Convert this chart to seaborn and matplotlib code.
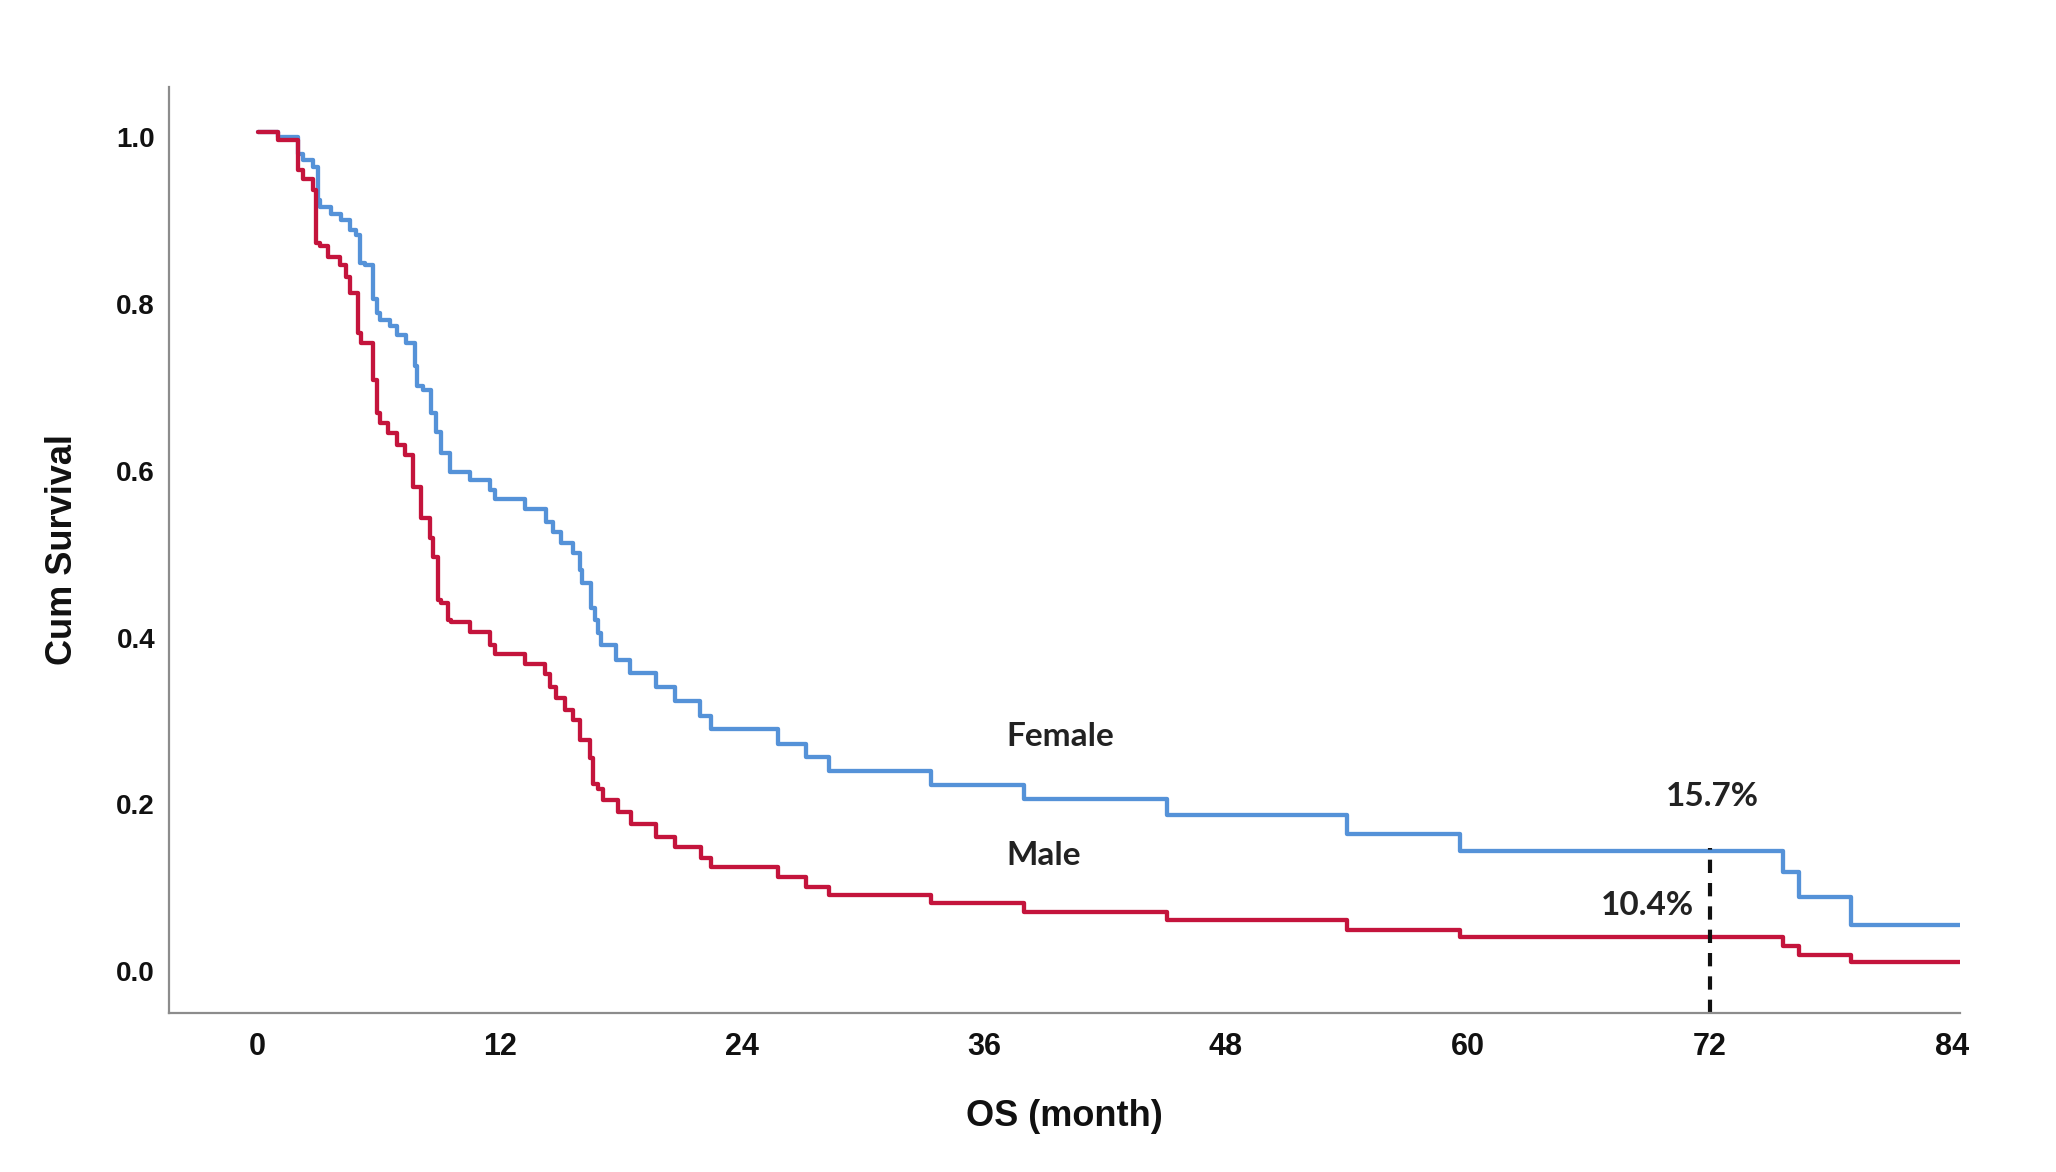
import numpy as np
import pandas as pd
import matplotlib
matplotlib.use("Agg")
import matplotlib.pyplot as plt
import matplotlib.transforms as mtransforms
import seaborn as sns

# Kaplan-Meier steps: (month where the step starts, survival from then on)
female_time = [0, 1.0, 2.0, 2.25, 2.74, 2.99, 3.1, 3.65, 4.15, 4.56, 4.89, 5.06, 5.3,
               5.72, 5.9, 6.05, 6.54, 6.88, 7.37, 7.78, 7.9, 8.2, 8.6, 8.86, 9.1, 9.52,
               10.51, 11.5, 11.75, 13.24, 14.31, 14.64, 15.06, 15.63, 15.96, 16.1, 16.54,
               16.7, 16.87, 17.04, 17.78, 18.44, 19.77, 20.67, 21.95, 22.45, 25.8, 27.2,
               28.3, 33.4, 38.0, 45.1, 54.0, 59.6, 75.6, 76.4, 79.0, 84.4]
female_surv = [1.0, 0.994, 0.974, 0.966, 0.958, 0.918, 0.910, 0.902, 0.894, 0.882, 0.876,
               0.843, 0.841, 0.800, 0.783, 0.775, 0.767, 0.757, 0.747, 0.720, 0.695, 0.691,
               0.663, 0.640, 0.615, 0.593, 0.583, 0.571, 0.560, 0.548, 0.533, 0.521, 0.507,
               0.495, 0.475, 0.459, 0.430, 0.415, 0.399, 0.385, 0.367, 0.351, 0.335, 0.318,
               0.300, 0.284, 0.267, 0.251, 0.234, 0.217, 0.200, 0.181, 0.159, 0.138, 0.113,
               0.083, 0.049, 0.049]

male_time = [0, 1.0, 2.0, 2.25, 2.74, 2.9, 3.07, 3.49, 4.07, 4.4, 4.56, 4.97, 5.14, 5.72,
             5.9, 6.05, 6.46, 6.88, 7.29, 7.7, 8.1, 8.53, 8.69, 8.94, 9.11, 9.44, 9.6,
             10.51, 11.5, 11.75, 13.24, 14.23, 14.48, 14.81, 15.22, 15.63, 15.96, 16.46,
             16.62, 16.87, 17.12, 17.86, 18.53, 19.77, 20.67, 21.99, 22.48, 25.8, 27.2,
             28.3, 33.4, 38.0, 45.1, 54.0, 59.6, 75.6, 76.4, 79.0, 84.4]
male_surv = [1.0, 0.990, 0.954, 0.944, 0.930, 0.867, 0.863, 0.850, 0.841, 0.826, 0.807,
             0.759, 0.747, 0.703, 0.663, 0.651, 0.639, 0.625, 0.613, 0.575, 0.537, 0.513,
             0.491, 0.439, 0.435, 0.415, 0.413, 0.401, 0.385, 0.374, 0.362, 0.350, 0.335,
             0.321, 0.307, 0.295, 0.271, 0.250, 0.219, 0.213, 0.199, 0.185, 0.171, 0.155,
             0.143, 0.130, 0.119, 0.107, 0.095, 0.085, 0.076, 0.065, 0.055, 0.044, 0.035,
             0.024, 0.013, 0.005, 0.005]

groups = ["Female", "Male"]
colors = ["#5592d8", "#c4143c"]
x_ticks = [0, 12, 24, 36, 48, 60, 72, 84]
y_ticks = [0.0, 0.2, 0.4, 0.6, 0.8, 1.0]
mark_month = 72
rate_labels = ["15.7%", "10.4%"]

df = pd.concat([
    pd.DataFrame({"month": female_time, "surv": female_surv, "sex": "Female"}),
    pd.DataFrame({"month": male_time, "surv": male_surv, "sex": "Male"}),
], ignore_index=True)

sns.set_theme(style="white")
plt.rcParams["font.family"] = ["Liberation Sans", "DejaVu Sans"]

W, H = 2056, 1172
fig = plt.figure(figsize=(W / 100, H / 100), dpi=100)
ax = fig.add_axes([169 / W, 1 - 1013 / H, (1960 - 169) / W, (1013 - 87) / H])

sns.lineplot(data=df, x="month", y="surv", hue="sex", hue_order=groups,
             palette=dict(zip(groups, colors)), estimator=None, drawstyle="steps-post",
             linewidth=3.1, legend=False, ax=ax)

ax.set_xlim(-4.4, 84.4)
ax.set_ylim(-0.056, 1.054)

# dashed marker at 72 months, up to the female curve
idx = np.searchsorted(female_time, mark_month, side="right") - 1
ax.plot([mark_month, mark_month], [ax.get_ylim()[0], female_surv[idx] + 0.004],
        color="#111111", linewidth=3, linestyle=(0, (3.2, 2.4)))

ax.set_xticks(x_ticks)
ax.set_xticklabels([str(t) for t in x_ticks], fontsize=22, fontweight="bold",
                   family=["Liberation Sans Narrow", "Liberation Sans"])
ax.set_yticks(y_ticks)
ax.set_yticklabels([f"{t:.1f}" for t in y_ticks], fontsize=20, fontweight="bold")
ax.tick_params(axis="x", length=0, pad=14, colors="#111111")
ax.tick_params(axis="y", length=0, pad=10, colors="#111111")

# y labels in the original sit a few pixels below their ticks
shift = mtransforms.ScaledTranslation(0, -5 / 100, fig.dpi_scale_trans)
for lab in ax.get_yticklabels():
    lab.set_transform(lab.get_transform() + shift)

for side in ["top", "right"]:
    ax.spines[side].set_visible(False)
for side in ["left", "bottom"]:
    ax.spines[side].set_color("#8c8c8c")
    ax.spines[side].set_linewidth(1.6)

ax.set_xlabel("OS (month)", fontsize=26, fontweight="bold", color="#111111")
ax.xaxis.set_label_coords(0.5, -0.112)
ax.xaxis.label.set_va("center")
ax.set_ylabel("Cum Survival", fontsize=26, fontweight="bold", color="#111111")
ax.yaxis.set_label_coords(-0.0597, 0.5)
ax.yaxis.label.set_va("center")

# group names and rates at 72 months
lab_font = ["Lato", "DejaVu Sans"]
ax.text(37.1, 0.275, "Female", fontsize=24, fontweight="bold", family=lab_font,
        color="#222222", ha="left", va="center")
ax.text(37.1, 0.133, "Male", fontsize=24, fontweight="bold", family=lab_font,
        color="#222222", ha="left", va="center")
ax.text(72.1, 0.204, rate_labels[0], fontsize=24, fontweight="bold", family=lab_font,
        color="#222222", ha="center", va="center")
ax.text(68.9, 0.073, rate_labels[1], fontsize=24, fontweight="bold", family=lab_font,
        color="#222222", ha="center", va="center")

fig.savefig("out.png", dpi=100, facecolor="white")
